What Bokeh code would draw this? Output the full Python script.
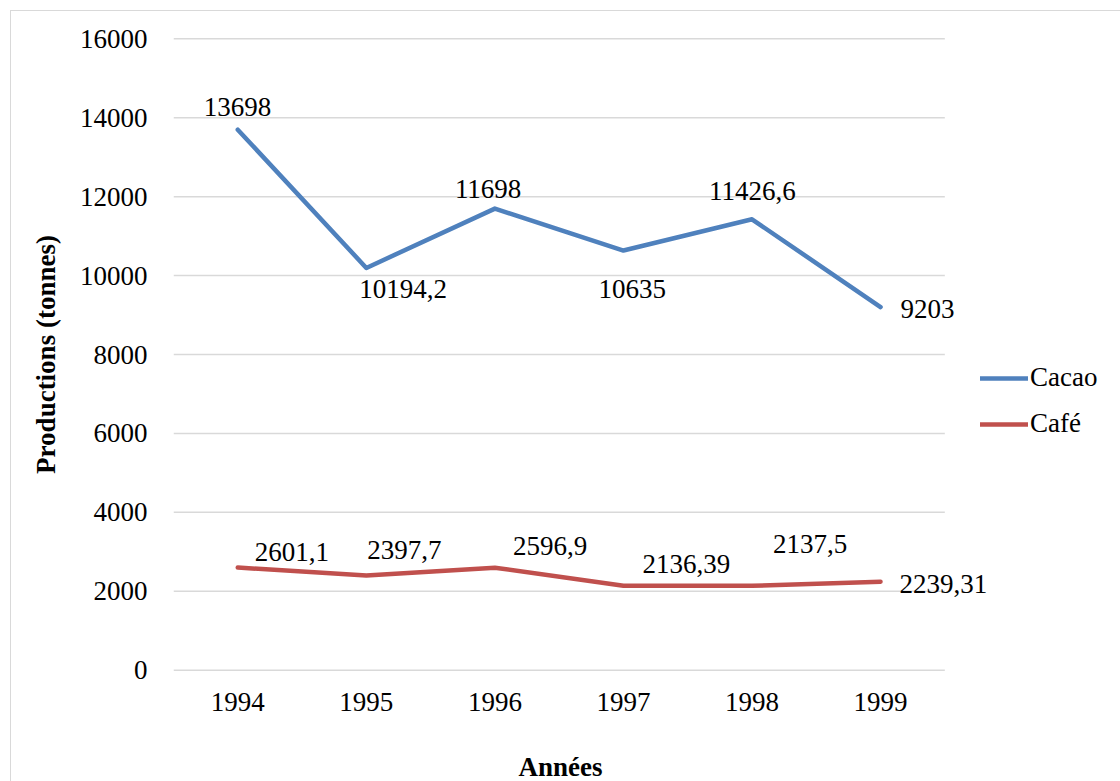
from bokeh.plotting import figure
from bokeh.models import (ColumnDataSource, LabelSet, Legend, LegendItem,
                          FixedTicker, Range1d, Title)
from bokeh.embed import file_html
from bokeh.resources import INLINE

# ---- data ----
years = ["1994", "1995", "1996", "1997", "1998", "1999"]
cacao = [13698, 10194.2, 11698, 10635, 11426.6, 9203]
cafe = [2601.1, 2397.7, 2596.9, 2136.39, 2137.5, 2239.31]
y_ticks = [0, 2000, 4000, 6000, 8000, 10000, 12000, 14000, 16000]

# ---- label placement (layout only, screen px) ----
cacao_dx = [-34, -7, -40, -25, -43, 20]
cacao_dy = [23, -21, 20, -38, 28, -2]
cafe_dx = [17, 1, 18, 19, 21, 19]
cafe_dy = [16, 26, 22, 22, 42, -2]

FONT = "Liberation Serif"
FS = "27px"


def fmt(v):
    return f"{v:g}".replace(".", ",")


xs = list(range(len(years)))
x_lo, x_hi = -0.5, len(years) - 0.5

p = figure(width=1120, height=781, x_range=Range1d(x_lo, 6.851),
           y_range=Range1d(-60, 16060), output_backend="svg",
           toolbar_location=None, min_border_left=173, min_border_right=2,
           min_border_top=36, min_border_bottom=109)
p.styles = {"box-shadow": "inset 10px 10px 0 0 white, inset 11px 11px 0 0 #d9d9d9"}
p.outline_line_color = None
p.background_fill_color = "white"
p.border_fill_color = None

# horizontal gridlines over the category span
p.segment(x0=x_lo, x1=x_hi, y0=y_ticks, y1=y_ticks, line_color="#d9d9d9",
          line_width=1.5, level="underlay")

src_cacao = ColumnDataSource(dict(x=xs, y=cacao, t=[fmt(v) for v in cacao],
                                  dx=cacao_dx, dy=cacao_dy))
src_cafe = ColumnDataSource(dict(x=xs, y=cafe, t=[fmt(v) for v in cafe],
                                 dx=cafe_dx, dy=cafe_dy))

r1 = p.line("x", "y", source=src_cacao, line_color="#4f81bd", line_width=4.5,
            line_cap="round", line_join="round")
r2 = p.line("x", "y", source=src_cafe, line_color="#c0504d", line_width=4.5,
            line_cap="round", line_join="round")

for src in (src_cacao, src_cafe):
    p.add_layout(LabelSet(x="x", y="y", text="t", source=src, x_offset="dx",
                          y_offset="dy", text_align="left",
                          text_baseline="middle", text_font=FONT,
                          text_font_size=FS, text_color="black"))

# axes
p.xaxis.ticker = FixedTicker(ticks=xs)
p.xaxis.major_label_overrides = {i: y for i, y in zip(xs, years)}
p.yaxis.ticker = FixedTicker(ticks=y_ticks)
for ax in (p.xaxis[0], p.yaxis[0]):
    ax.axis_line_color = None
    ax.major_tick_line_color = None
    ax.minor_tick_line_color = None
    ax.major_tick_out = 0
    ax.major_tick_in = 0
    ax.major_label_text_font = FONT
    ax.major_label_text_font_size = FS
    ax.major_label_text_color = "black"
    ax.axis_label_text_font = FONT
    ax.axis_label_text_font_size = FS
    ax.axis_label_text_font_style = "bold"
    ax.axis_label_text_color = "black"

p.yaxis.axis_label = "Productions (tonnes)"
p.xaxis.major_label_standoff = 20
p.yaxis.major_label_standoff = 26
p.yaxis.axis_label_standoff = 16
p.xgrid.grid_line_color = None
p.ygrid.grid_line_color = None

# blank spacer between the year labels and the x title
spacer = Title(text=" ", standoff=4, text_font=FONT, text_font_size=FS,
               text_color="white")
p.add_layout(spacer, "below")

xtitle = Title(text="Années", align="left", offset=345, standoff=0,
               text_font=FONT, text_font_size=FS, text_font_style="bold",
               text_color="black")
p.add_layout(xtitle, "below")

legend = Legend(items=[LegendItem(label="Cacao", renderers=[r1]),
                       LegendItem(label="Café", renderers=[r2])],
                location=(807, 233), orientation="vertical")
legend.border_line_color = None
legend.background_fill_alpha = 0
legend.padding = 0
legend.margin = 0
legend.spacing = 15
legend.glyph_width = 48
legend.glyph_height = 30
legend.label_height = 30
legend.label_standoff = 2
legend.label_text_font = FONT
legend.label_text_font_size = FS
legend.label_text_color = "black"
p.add_layout(legend, "center")

open("out.html", "w").write(file_html(p, INLINE))
